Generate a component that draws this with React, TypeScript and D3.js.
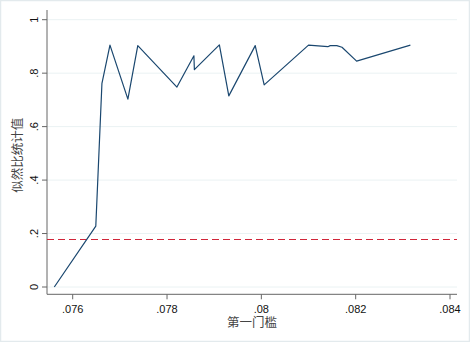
import React from "react";
import * as d3 from "d3";

const thresholdX = [0.07561, 0.07649, 0.07662, 0.07679, 0.07717, 0.07738, 0.07821, 0.07857, 0.07858, 0.07911, 0.07931, 0.07987, 0.08006, 0.081, 0.08141, 0.08146, 0.0816, 0.08171, 0.08202, 0.08316];
const lrValues = [0.0, 0.228, 0.762, 0.905, 0.703, 0.903, 0.748, 0.865, 0.813, 0.906, 0.715, 0.903, 0.756, 0.905, 0.899, 0.903, 0.903, 0.897, 0.845, 0.905];
const criticalValue = 0.178;
const xTicks = [0.076, 0.078, 0.08, 0.082, 0.084];
const xTickLabels = [".076", ".078", ".08", ".082", ".084"];
const yTicks = [0, 0.2, 0.4, 0.6, 0.8, 1];
const yTickLabels = ["0", ".2", ".4", ".6", ".8", "1"];
const xTitle = "第一门槛";
const yTitle = "似然比统计值";

export default function App() {
  const W = 470, H = 342;
  const left = 47, right = 457, top = 10, bottom = 294.3;
  const x = d3.scaleLinear().domain([0.076, 0.084]).range([72.7, 450]);
  const y = d3.scaleLinear().domain([0, 1]).range([287, 19.7]);
  const pts: [number, number][] = thresholdX.map((v, i) => [v, lrValues[i]]);
  const line = d3.line<[number, number]>().x(d => x(d[0])).y(d => y(d[1]));
  const font = "'Liberation Sans', Arial, sans-serif";
  const cjk = "'Noto Sans CJK SC', sans-serif";
  const critY = Math.round(y(criticalValue)) + 0.5;
  return (
    <svg width={W} height={H} style={{ position: "absolute", left: 0, top: 0, display: "block" }}>
      <rect x={0} y={0} width={W} height={H} fill="#ffffff" />
      <rect x={0.5} y={0.5} width={W - 1} height={H - 1} fill="none" stroke="#e3eaed" strokeWidth={1.5} />
      {yTicks.map((t, i) => (
        <line key={"g" + i} x1={left} x2={right} y1={y(t)} y2={y(t)} stroke="#eaf2f3" strokeWidth={1} />
      ))}
      <line x1={left} x2={left} y1={top} y2={bottom} stroke="#666" strokeWidth={1} />
      <line x1={left} x2={right} y1={bottom} y2={bottom} stroke="#666" strokeWidth={1} />
      {yTicks.map((t, i) => (
        <g key={"y" + i}>
          <line x1={left - 5} x2={left} y1={y(t)} y2={y(t)} stroke="#666" strokeWidth={1} />
          <text transform={`translate(${left - 9},${y(t)}) rotate(-90)`} textAnchor="middle" fontFamily={font} fontSize={11} fill="#111">
            {yTickLabels[i]}
          </text>
        </g>
      ))}
      {xTicks.map((t, i) => (
        <g key={"x" + i}>
          <line x1={x(t)} x2={x(t)} y1={bottom} y2={bottom + 5} stroke="#666" strokeWidth={1} />
          <text x={x(t)} y={bottom + 18.5} textAnchor="middle" fontFamily={font} fontSize={11} fill="#111">
            {xTickLabels[i]}
          </text>
        </g>
      ))}
      <line x1={left} x2={right} y1={critY} y2={critY} stroke="#d0263a" strokeWidth={1} strokeDasharray="7,4" />
      <path d={line(pts) || ""} fill="none" stroke="#1a476f" strokeWidth={1.2} strokeLinejoin="round" />
      <text x={(left + right) / 2} y={326.5} textAnchor="middle" fontFamily={cjk} fontSize={12.5} fill="#444">
        {xTitle}
      </text>
      <text transform={`translate(22,${(top + bottom) / 2 + 3}) rotate(-90)`} textAnchor="middle" fontFamily={cjk} fontSize={12.5} fill="#444">
        {yTitle}
      </text>
    </svg>
  );
}
